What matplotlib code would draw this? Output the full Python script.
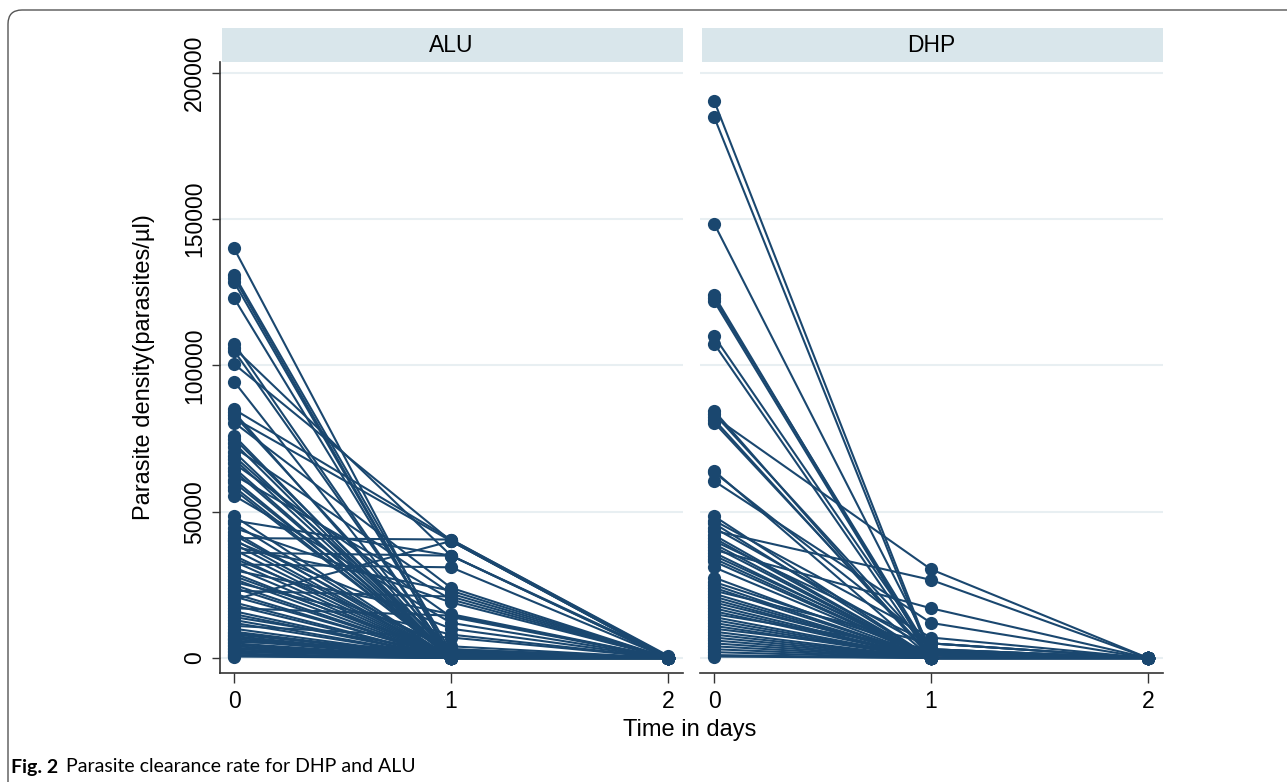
import numpy as np
import matplotlib
matplotlib.use("Agg")
import matplotlib.pyplot as plt
from matplotlib.patches import Rectangle, FancyBboxPatch
from matplotlib.transforms import IdentityTransform

# ---------- DATA ----------

days = [0, 1, 2]

# ALU: parasite density per subject at day 0, 1, 2
alu_day0 = [140000, 131000, 130000, 128500, 123000, 107500, 106000, 105000, 100500, 94500,
            85000, 84000, 83000, 82000, 80500, 76000, 75000, 73500, 72000, 70500,
            69000, 68000, 66500, 65000, 64000, 62500, 61000, 60000, 58500, 57500,
            55500, 48500, 47000, 46000, 44500, 43000, 42000, 41000, 40500, 40000,
            39000, 38000, 37000, 36000, 35000, 34000, 33000, 32000, 31000, 30000,
            29000, 28000, 27000, 26000, 25000, 24000, 23000, 22000, 21000, 20000,
            19000, 18000, 17000, 16000, 15000, 14000, 13000, 12000, 11000, 10000,
            9000, 8500, 8000, 7500, 7000, 6500, 6000, 5500, 5000, 4500,
            4000, 3500, 3000, 2500, 2000, 1500, 1000, 800, 500]
alu_day1 = [0, 2000, 0, 0, 1000, 0, 35000, 0, 40000, 0,
            40500, 0, 2500, 40000, 24000, 0, 1500, 0, 22000, 0,
            3000, 0, 14000, 0, 0, 20000, 0, 1000, 0, 0,
            12000, 0, 35000, 0, 19000, 0, 2000, 40500, 0, 10000,
            0, 23000, 0, 35000, 0, 4000, 0, 31000, 0, 15000,
            0, 1500, 0, 8000, 0, 0, 21000, 0, 500, 40000,
            0, 0, 14500, 0, 0, 2000, 0, 0, 7000, 0,
            0, 0, 1000, 0, 0, 0, 0, 3000, 0, 0,
            0, 0, 0, 0, 500, 0, 0, 0, 0]
alu_day2 = [0, 0, 0, 0, 0, 0, 500, 0, 0, 0,
            800, 0, 0, 0, 0, 0, 0, 0, 0, 0,
            0, 0, 0, 0, 0, 0, 0, 0, 0, 0,
            0, 0, 0, 0, 0, 0, 0, 500, 0, 0,
            0, 0, 0, 0, 0, 0, 0, 0, 0, 0,
            0, 0, 0, 0, 0, 0, 0, 0, 0, 0,
            0, 0, 0, 0, 0, 0, 0, 0, 0, 0,
            0, 0, 0, 0, 0, 0, 0, 0, 0, 0,
            0, 0, 0, 0, 0, 0, 0, 0, 0]

# DHP: parasite density per subject at day 0, 1, 2
dhp_day0 = [190500, 185000, 148500, 124000, 123000, 122000, 110000, 107500, 84500, 83500,
            82500, 81500, 80500, 64000, 63500, 60500, 48500, 47000, 46000, 44500,
            43500, 42000, 41000, 40000, 39000, 38000, 37000, 36000, 35000, 34000,
            33000, 31000, 27500, 26000, 25000, 24000, 23000, 22000, 21000, 20000,
            19000, 18000, 17000, 16000, 15000, 14000, 13000, 12000, 11000, 10000,
            9000, 8000, 7000, 6000, 5000, 4000, 3000, 2000, 1000, 500]
dhp_day1 = [1000, 0, 3000, 0, 1500, 0, 2000, 0, 0, 2500,
            30300, 0, 1000, 0, 5000, 12000, 0, 7000, 0, 3000,
            26700, 0, 0, 5000, 0, 0, 17000, 0, 1000, 0,
            0, 0, 0, 2000, 0, 0, 5000, 0, 0, 0,
            1000, 0, 0, 0, 3000, 0, 0, 0, 0, 1500,
            0, 0, 0, 0, 0, 0, 0, 0, 0, 0]
dhp_day2 = [0] * len(dhp_day0)

panel_names = ["ALU", "DHP"]

# ---------- STYLE ----------

W, H = 1287, 782
NAVY = "#1a476f"
STRIP = "#d9e6eb"
GRID = "#e8eff2"
AXCOL = "#333333"
FS = 16.5

plt.rcParams["font.family"] = ["Liberation Sans", "DejaVu Sans"]

fig = plt.figure(figsize=(W / 100, H / 100), dpi=100)

# outer rounded frame (pixel coordinates, origin bottom-left)
frame = FancyBboxPatch((8, -40), 1400, 772 + 40,
                       boxstyle="round,pad=0,rounding_size=14",
                       transform=IdentityTransform(), fill=False,
                       edgecolor="#555555", linewidth=1.0)
fig.patches.append(frame)

ax_bottom = 1 - 673 / H
ax_height = (673 - 62) / H
lefts = [220 / W, 700 / W]
width = 463 / W

ylim = (-5128, 203760)
xlim = (-0.065, 2.069)

panels = [(alu_day0, alu_day1, alu_day2), (dhp_day0, dhp_day1, dhp_day2)]

for i, (name, (d0, d1, d2)) in enumerate(zip(panel_names, panels)):
    ax = fig.add_axes([lefts[i], ax_bottom, width, ax_height])
    ax.set_xlim(*xlim)
    ax.set_ylim(*ylim)

    for y in [0, 50000, 100000, 150000, 200000]:
        ax.axhline(y, color=GRID, linewidth=1.5, zorder=0)

    for a, b, c in zip(d0, d1, d2):
        ax.plot(days, [a, b, c], "-o", color=NAVY, linewidth=1.5,
                markersize=9.5, markeredgewidth=0, zorder=2)

    for s in ["top", "right"]:
        ax.spines[s].set_visible(False)
    ax.spines["bottom"].set_color(AXCOL)
    ax.spines["bottom"].set_linewidth(1.2)

    ax.set_xticks(days)
    ax.set_xticklabels([str(d) for d in days], fontsize=FS)
    ax.tick_params(axis="x", length=7, width=1, color=AXCOL, pad=5)

    if i == 0:
        ax.spines["left"].set_color(AXCOL)
        ax.spines["left"].set_linewidth(1.2)
        ax.set_yticks([0, 50000, 100000, 150000, 200000])
        ax.set_yticklabels(["0", "50000", "100000", "150000", "200000"],
                           rotation=90, va="center", fontsize=FS)
        ax.tick_params(axis="y", length=6, width=1, color=AXCOL, pad=4)
        ax.set_ylabel("Parasite density(parasites/µl)", fontsize=FS + 0.5)
        ax.yaxis.set_label_coords(-(220 - 155) / 463, 0.5)
    else:
        ax.spines["left"].set_visible(False)
        ax.set_yticks([])

    # header strip
    strip_h = 34 / (673 - 62)
    ax.add_patch(Rectangle((0.004, 1.0), 0.996, strip_h, transform=ax.transAxes,
                           facecolor=STRIP, edgecolor="none", clip_on=False))
    ax.text(0.5, 1.0 + strip_h / 2, name, transform=ax.transAxes,
            ha="center", va="center", fontsize=FS)

fig.text(690 / W, 1 - 730 / H, "Time in days", ha="center", va="center", fontsize=FS + 0.5)

# caption
cap_y = 1 - 767 / H
fig.text(11 / W, cap_y, "Fig. 2", fontsize=14, fontweight="bold",
         ha="left", va="center", family=["Lato", "DejaVu Sans"])
fig.text(66 / W, cap_y, "Parasite clearance rate for DHP and ALU", fontsize=14,
         ha="left", va="center", family=["Lato", "DejaVu Sans"])

fig.savefig("out.png", dpi=100)
